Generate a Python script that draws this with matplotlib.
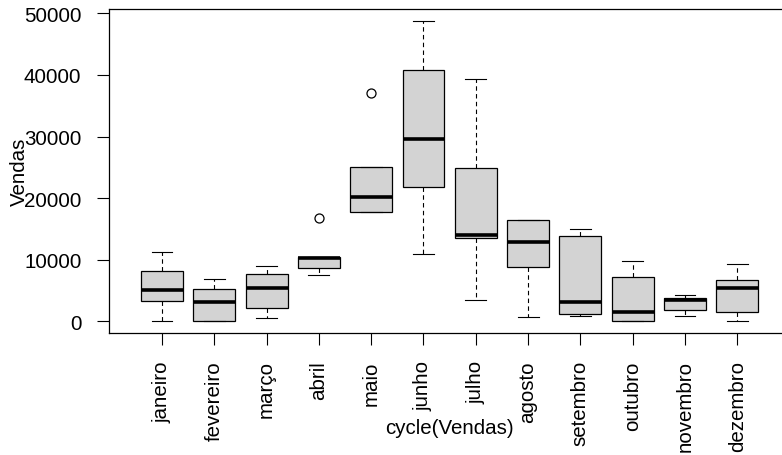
import matplotlib
matplotlib.use('Agg')
import matplotlib.pyplot as plt

# monthly sales summary
months = ['janeiro', 'fevereiro', 'março', 'abril', 'maio', 'junho',
          'julho', 'agosto', 'setembro', 'outubro', 'novembro', 'dezembro']
whis_lo = [0, 0, 490, 7570, 17780, 10860, 3520, 650, 870, 0, 870, 0]
q1 = [3300, 0, 2110, 8590, 17780, 21790, 13570, 8750, 1200, 0, 1900, 1570]
med = [5090, 3190, 5460, 10210, 20210, 29570, 14010, 12810, 3140, 1570, 3400, 5460]
q3 = [8100, 5250, 7730, 10370, 25130, 40800, 24920, 16530, 13890, 7200, 3730, 6650]
whis_hi = [11250, 6810, 8980, 10370, 25130, 48740, 39390, 16530, 14980, 9840, 4210, 9300]
outliers = [[], [], [], [16700], [37120], [], [], [], [], [], [], []]

plt.rcParams['font.family'] = ['Liberation Sans', 'DejaVu Sans']

stats = []
for i in range(len(months)):
    stats.append(dict(label=months[i], whislo=whis_lo[i], q1=q1[i], med=med[i],
                      q3=q3[i], whishi=whis_hi[i], fliers=outliers[i]))

fig = plt.figure(figsize=(7.82, 4.56), dpi=100)
# the original R plot is cropped on the right, so the axes run past the edge
ax = fig.add_axes([0.1389, 0.2675, 0.8722, 0.7105])

ax.bxp(stats, positions=range(1, 13), widths=0.8, capwidths=0.4,
       patch_artist=True,
       boxprops=dict(facecolor='#D3D3D3', edgecolor='black', linewidth=0.9),
       medianprops=dict(color='black', linewidth=2.6, solid_capstyle='butt'),
       whiskerprops=dict(color='black', linewidth=0.8, linestyle=(0, (4, 3))),
       capprops=dict(color='black', linewidth=0.8),
       flierprops=dict(marker='o', markersize=6.5, markerfacecolor='none',
                       markeredgecolor='black', markeredgewidth=0.9))

ax.set_xlim(-0.02, 13.02)
ax.set_ylim(-1900, 50700)
ax.set_yticks([0, 10000, 20000, 30000, 40000, 50000])
ax.set_yticklabels(['0', '10000', '20000', '30000', '40000', '50000'])
ax.set_xticks(range(1, 13))
ax.set_xticklabels(months, rotation=90, va='top')

for s in ax.spines.values():
    s.set_linewidth(0.9)
ax.tick_params(axis='both', labelsize=14.8, length=8.6, width=0.8, pad=11)

ax.set_xlabel('cycle(Vendas)', fontsize=14.8)
ax.xaxis.set_label_coords(0.5, -0.293)
ax.xaxis.label.set_va('center')
ax.set_ylabel('Vendas', fontsize=14.8)
ax.yaxis.set_label_coords(-0.131, 0.5)
ax.yaxis.label.set_va('center')

fig.savefig('out.png', dpi=100)
